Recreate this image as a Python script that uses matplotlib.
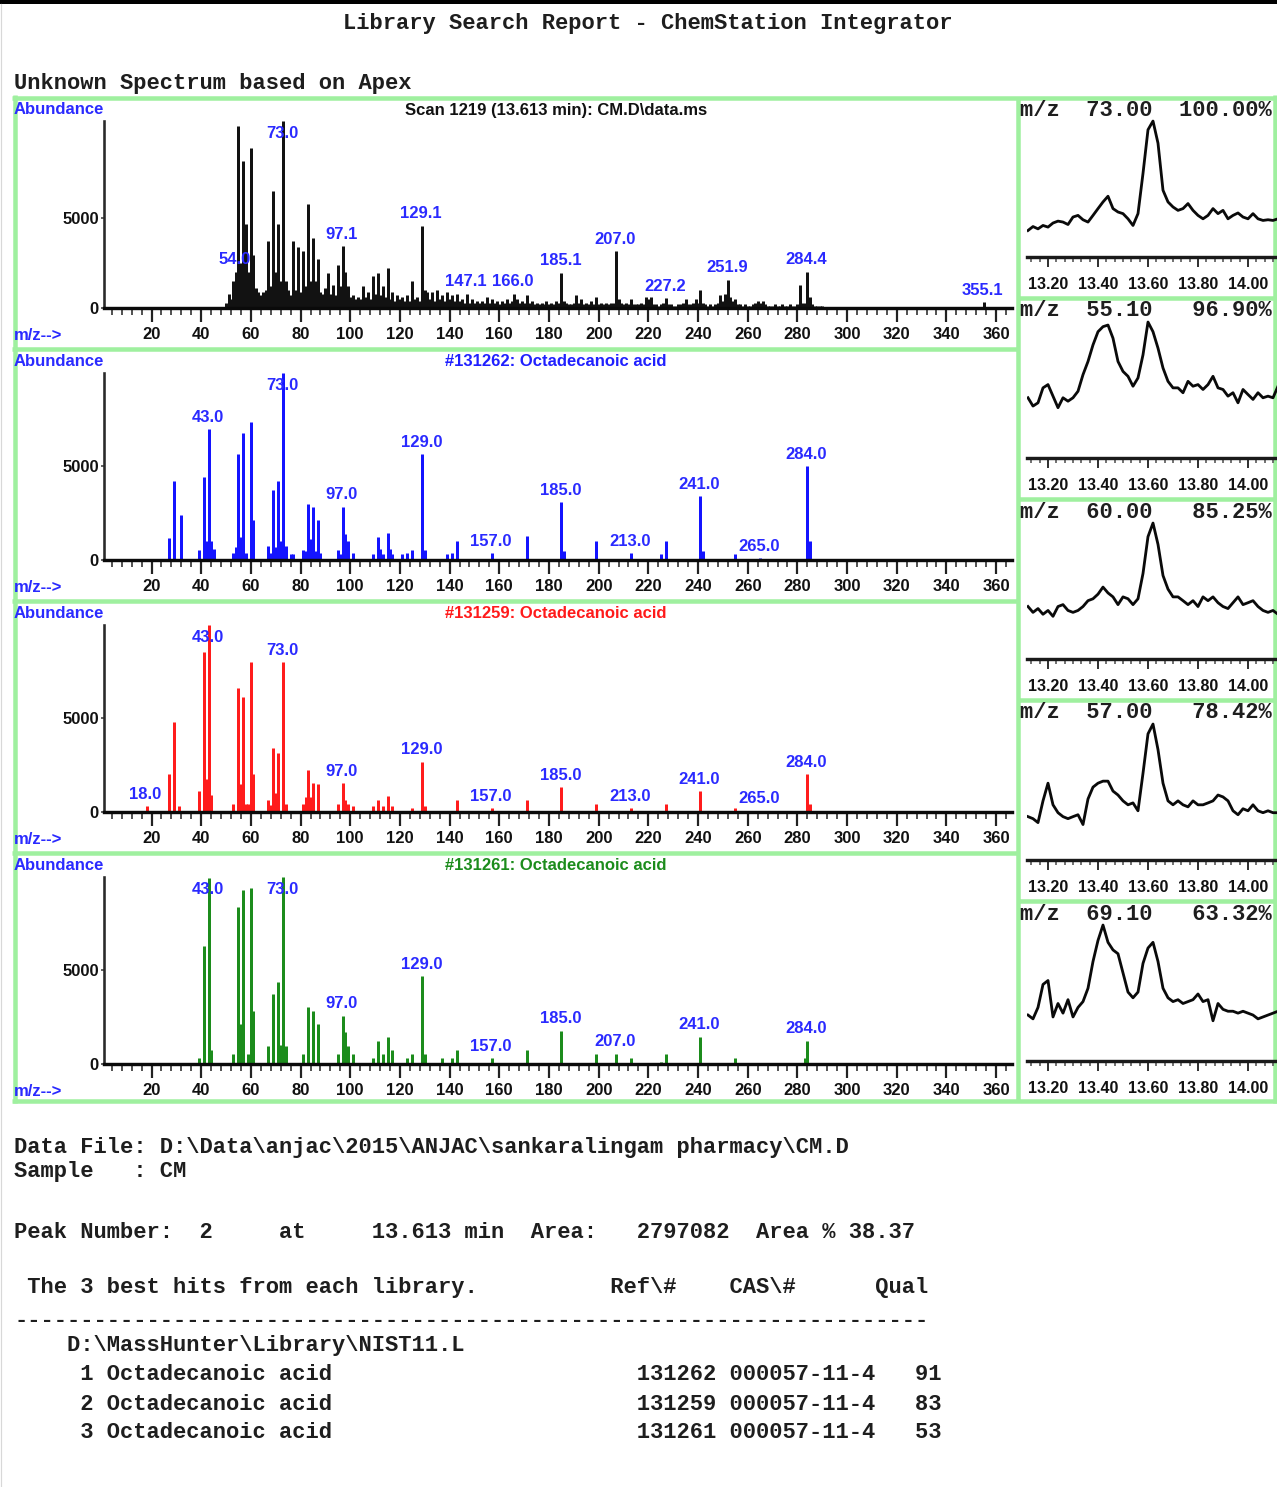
import matplotlib
matplotlib.use("Agg")
import matplotlib.pyplot as plt
import numpy as np
from matplotlib.ticker import MultipleLocator, FixedLocator

plt.rcParams['font.family'] = ['Liberation Sans', 'DejaVu Sans']
plt.rcParams['font.weight'] = 'bold'

# ---------------- data ----------------
# Unknown spectrum (scan 1219), m/z 50..290 plus 355
mz1 = list(range(50, 291)) + [355]
ab1 = [300, 800, 500, 1500, 2000, 10050, 2500, 8150, 4630, 2000,
       8870, 2960, 1100, 900, 700, 900, 1000, 3700, 1200, 6480,
       2000, 4630, 1500, 10350, 1500, 1000, 700, 3700, 1000, 3400,
       900, 3150, 1200, 5740, 1500, 3890, 1500, 2690, 900, 800,
       1100, 1950, 800, 1300, 700, 2400, 1200, 3430, 2000, 1200,
       600, 700, 500, 600, 500, 1200, 600, 900, 500, 1760,
       800, 1950, 700, 1200, 600, 2220, 500, 900, 400, 700,
       500, 600, 400, 700, 400, 1500, 500, 600, 400, 4540,
       1000, 900, 500, 900, 400, 1000, 500, 700, 400, 900,
       500, 700, 400, 800, 400, 500, 300, 780, 300, 500,
       300, 400, 300, 400, 300, 600, 300, 500, 300, 400,
       200, 400, 300, 500, 300, 400, 780, 500, 300, 400,
       300, 700, 300, 400, 200, 300, 200, 300, 200, 400,
       200, 300, 200, 400, 300, 1950, 400, 300, 200, 200,
       300, 700, 300, 500, 200, 300, 200, 400, 200, 600,
       200, 300, 200, 300, 200, 300, 300, 3150, 500, 300,
       200, 300, 200, 500, 200, 200, 200, 300, 200, 600,
       500, 600, 200, 200, 100, 200, 300, 550, 200, 200,
       100, 100, 200, 200, 300, 500, 200, 200, 300, 500,
       300, 1020, 300, 200, 100, 200, 100, 200, 300, 700,
       400, 800, 1550, 600, 400, 500, 200, 200, 100, 200,
       100, 100, 200, 300, 400, 300, 400, 200, 100, 100,
       100, 200, 100, 100, 200, 100, 100, 200, 100, 100,
       200, 1300, 300, 300, 2000, 600, 200, 100, 100, 100, 100,
       330]
lab1 = [(54, "54.0"), (73, "73.0"), (97, "97.1"), (129, "129.1"), (147, "147.1"),
        (166, "166.0"), (185, "185.1"), (207, "207.0"), (227, "227.2"),
        (252, "251.9"), (284, "284.4"), (355, "355.1")]

# Library hit #131262
mz2 = [27, 29, 32, 39, 41, 42, 43, 44, 45, 53, 54, 55, 56, 57, 58, 60, 61, 67, 68, 69,
       70, 71, 72, 73, 74, 76, 77, 81, 82, 83, 84, 85, 86, 87, 88, 95, 96, 97, 98, 99,
       101, 109, 111, 112, 113, 115, 116, 117, 121, 123, 125, 129, 130, 139, 141, 143, 157, 171, 185, 186,
       199, 213, 225, 227, 241, 242, 255, 265, 284, 285]
ab2 = [1200, 4200, 2400, 550, 4450, 1000, 7000, 1000, 600, 350, 700, 5650, 1250, 6800, 400, 7400, 2150, 750, 400, 3750,
       700, 4200, 1000, 9999, 750, 300, 300, 550, 500, 3000, 1100, 2850, 500, 2150, 400, 550, 300, 2850, 1400, 1000,
       400, 300, 1250, 600, 300, 1450, 600, 300, 300, 350, 550, 5650, 550, 300, 350, 1000, 350, 1300, 3100, 500,
       1000, 350, 300, 1000, 3400, 500, 300, 100, 5000, 1000]
lab2 = [(43, "43.0"), (73, "73.0"), (97, "97.0"), (129, "129.0"), (157, "157.0"), (185, "185.0"),
        (213, "213.0"), (241, "241.0"), (265, "265.0"), (284, "284.0")]

# Library hit #131259
mz3 = [18, 27, 29, 31, 39, 41, 42, 43, 44, 53, 55, 56, 57, 58, 59, 60, 61, 67, 68, 69,
       70, 71, 73, 74, 81, 82, 83, 84, 85, 87, 95, 97, 98, 99, 101, 109, 111, 113, 115, 117,
       125, 129, 130, 143, 157, 171, 185, 199, 213, 227, 241, 255, 265, 284, 285]
ab3 = [300, 2010, 4810, 300, 1100, 8550, 1780, 9999, 890, 450, 6620, 1500, 6140, 450, 450, 8010, 2050, 620, 400, 3420,
       1000, 3170, 8010, 450, 450, 800, 2225, 800, 1550, 1510, 450, 1550, 620, 450, 300, 300, 620, 300, 850, 300,
       210, 2700, 300, 620, 210, 620, 1335, 445, 210, 445, 1100, 210, 60, 2010, 445]
lab3 = [(18, "18.0"), (43, "43.0"), (73, "73.0"), (97, "97.0"), (129, "129.0"), (157, "157.0"),
        (185, "185.0"), (213, "213.0"), (241, "241.0"), (265, "265.0"), (284, "284.0")]

# Library hit #131261
mz4 = [39, 41, 43, 44, 53, 55, 56, 57, 59, 60, 61, 67, 69, 71, 72, 73, 74, 81, 83, 85,
       87, 95, 97, 98, 99, 101, 109, 111, 113, 115, 117, 123, 125, 129, 130, 137, 141, 143, 157, 171,
       185, 199, 207, 213, 225, 227, 241, 255, 283, 284]
ab4 = [300, 6320, 9950, 750, 530, 8370, 2140, 9290, 530, 9430, 2850, 980, 3740, 4410, 1000, 9999, 980, 530, 3030, 2850,
       2140, 530, 2580, 1690, 980, 530, 300, 1210, 530, 1420, 750, 300, 530, 4680, 530, 300, 300, 750, 320, 750,
       1790, 540, 540, 320, 100, 540, 1470, 320, 320, 1250]
lab4 = [(43, "43.0"), (73, "73.0"), (97, "97.0"), (129, "129.0"), (157, "157.0"), (185, "185.0"),
        (207, "207.0"), (241, "241.0"), (284, "284.0")]

titles = ["Scan 1219 (13.613 min): CM.D\\data.ms", "#131262: Octadecanoic acid",
          "#131259: Octadecanoic acid", "#131261: Octadecanoic acid"]

# Extracted ion chromatograms (relative intensity), scan times in min
eic_time = np.linspace(13.12, 14.12, 51)
eic_ions = [73.00, 55.10, 60.00, 57.00, 69.10]
eic_pct = [100.00, 96.90, 85.25, 78.42, 63.32]
eic73 = [19.5, 22.4, 20.7, 23.2, 22.0, 25.0, 26.4, 25.7, 23.9, 29.4,
         30.6, 27.4, 25.7, 30.6, 35.6, 40.5, 44.7, 35.6, 33.1, 31.9,
         28.1, 23.2, 31.9, 61.5, 93.6, 100.0, 83.7, 49.1, 40.5, 36.8,
         34.3, 35.6, 39.3, 34.3, 30.6, 28.1, 30.6, 35.6, 31.9, 34.3,
         28.1, 30.6, 32.4, 29.4, 28.1, 31.9, 28.1, 26.9, 27.4, 26.9, 28.1]
eic55 = [44.3, 38.2, 40.6, 51.6, 54.0, 45.5, 37.0, 44.3, 41.8, 44.3,
         49.1, 61.3, 71.0, 83.2, 92.9, 96.6, 97.8, 88.1, 71.0, 63.7,
         60.1, 52.8, 58.9, 75.9, 100.0, 92.9, 80.8, 66.2, 56.4, 51.6,
         51.6, 48.0, 56.4, 52.8, 54.0, 50.4, 54.0, 60.1, 51.6, 50.4,
         45.5, 48.0, 40.6, 50.4, 46.7, 43.1, 48.0, 44.3, 45.5, 44.3, 52.8]
eic60 = [38.6, 34.3, 37.1, 32.9, 35.7, 31.4, 38.6, 40.0, 35.7, 34.3,
         35.7, 38.6, 42.9, 44.3, 47.7, 52.9, 48.6, 45.7, 40.0, 45.7,
         44.3, 40.0, 44.3, 62.9, 90.0, 100.0, 84.3, 61.4, 51.4, 45.7,
         45.7, 42.9, 40.0, 42.9, 38.6, 45.7, 42.9, 45.7, 41.4, 38.6,
         37.1, 41.4, 45.7, 40.0, 41.4, 42.9, 38.6, 35.7, 34.3, 35.7, 32.9]
eic57 = [31.9, 30.4, 27.5, 43.5, 56.5, 40.6, 34.8, 31.9, 30.4, 31.9,
         33.3, 26.1, 44.9, 53.6, 56.5, 58.0, 58.0, 50.7, 47.8, 43.5,
         40.6, 42.0, 36.2, 63.8, 92.8, 100.0, 81.2, 56.5, 43.5, 40.6,
         43.5, 40.6, 39.1, 43.5, 40.6, 40.6, 42.0, 43.5, 47.8, 46.4,
         43.5, 36.2, 33.3, 37.7, 36.2, 40.6, 36.2, 34.8, 36.2, 34.8, 34.8]
eic69 = [33.8, 31.0, 39.4, 56.3, 59.2, 32.4, 42.3, 35.2, 45.1, 32.4,
         39.4, 43.7, 53.5, 73.2, 88.7, 100.0, 87.3, 81.7, 78.9, 64.8,
         50.7, 46.5, 50.7, 71.8, 83.1, 87.3, 73.2, 53.5, 46.5, 43.7,
         45.1, 42.3, 43.7, 45.1, 49.3, 43.7, 45.1, 29.6, 42.3, 38.0,
         36.6, 36.6, 35.2, 36.6, 35.2, 33.8, 31.0, 32.4, 33.8, 35.2, 36.6]

report_title = "Library Search Report - ChemStation Integrator"
subtitle = "Unknown Spectrum based on Apex"
hits = [("Octadecanoic acid", "131262", "000057-11-4", "91"),
        ("Octadecanoic acid", "131259", "000057-11-4", "83"),
        ("Octadecanoic acid", "131261", "000057-11-4", "53")]

# ---------------- layout ----------------
W, H = 1277, 1487
fig = plt.figure(figsize=(W / 100, H / 100), dpi=100)
PX = 72 / 100.0  # points per pixel

ov = fig.add_axes([0, 0, 1, 1])
ov.set_xlim(0, W)
ov.set_ylim(H, 0)
ov.axis('off')


def pax(x0, y0, x1, y1):
    a = fig.add_axes([x0 / W, 1 - y1 / H, (x1 - x0) / W, (y1 - y0) / H])
    a.patch.set_alpha(0)
    return a


GREEN = '#9ff09f'
BLUE = '#2a2aff'
MONO = dict(family=['Liberation Mono', 'DejaVu Sans Mono'], fontsize=15.9,
            fontweight='bold', color='#1e1e1e', va='center')


def gline(x0, y0, x1, y1):
    ov.plot([x0, x1], [y0, y1], color=GREEN, lw=4.5 * PX, solid_capstyle='butt', zorder=1)


# page decorations
ov.add_patch(plt.Rectangle((0, 0), W, 4, color='black', lw=0))
ov.plot([0.8, 0.8], [4, H], color='#d8d8d8', lw=1.2 * PX)

# frame
gline(12, 97.5, 1277, 97.5)
gline(12, 1100.5, 1277, 1100.5)
gline(14.5, 95, 14.5, 1103)
gline(1274.5, 95, 1274.5, 1103)
gline(1018, 97, 1018, 1101)
for y in [348.5, 600.5, 852.5]:
    gline(12, y, 1018, y)
for y in [298, 499, 700, 901]:
    gline(1018, y, 1277, y)

# texts
ov.text(648, 23, report_title, ha='center', **MONO)
ov.text(14, 84, subtitle, ha='left', **MONO)

spectra = [(mz1, ab1, '#121212', titles[0], '#111111', lab1),
           (mz2, ab2, '#1414ff', titles[1], '#2020ff', lab2),
           (mz3, ab3, '#ff1c1c', titles[2], '#ff1a1a', lab3),
           (mz4, ab4, '#1c8c1c', titles[3], '#1c8c1c', lab4)]
tops = [97, 349, 601, 853]
MZ_LIM = (0.87, 366.4)

for k, (mz, ab, col, ttl, tcol, labs) in enumerate(spectra):
    T = tops[k]
    ax = pax(104, T + 24, 1012, T + 211)
    ymax = max(ab)
    ax.set_xlim(*MZ_LIM)
    ax.set_ylim(0, ymax)
    ax.vlines(mz, 0, ab, color=col, lw=3.0 * PX, zorder=2)
    for s in ['top', 'right']:
        ax.spines[s].set_visible(False)
    ax.spines['bottom'].set_linewidth(3.4 * PX)
    ax.spines['bottom'].set_color('#0a0a0a')
    ax.spines['left'].set_linewidth(2.6 * PX)
    ax.spines['left'].set_color('#2a2a2a')
    ax.xaxis.set_major_locator(MultipleLocator(20))
    ax.xaxis.set_minor_locator(MultipleLocator(4))
    ax.tick_params(axis='x', which='major', length=14 * PX, width=2.2 * PX, color='#222',
                   labelsize=12, pad=3.5, labelcolor='#111')
    ax.tick_params(axis='x', which='minor', length=7 * PX, width=2.0 * PX, color='#555')
    ax.set_yticks([0, 5000])
    ax.set_yticklabels(['0', '5000'])
    ax.tick_params(axis='y', which='major', length=3 * PX, width=1.5 * PX, color='#333',
                   labelsize=12, pad=1.5, labelcolor='#111')
    d = ymax * 12.0 / 187.0
    for m, txt in labs:
        v = ab[mz.index(m)]
        y = min(v + d, ymax - d)
        ax.text(m - 0.4, y, txt, color=BLUE, ha='center', va='center', fontsize=12,
                fontweight='bold', zorder=3)
    ov.text(14, T + 13, "Abundance", color=BLUE, ha='left', va='center', fontsize=12, fontweight='bold')
    ov.text(556, T + 13, ttl, color=tcol, ha='center', va='center', fontsize=12, fontweight='bold')
    ov.text(14, T + 238, "m/z-->", color=BLUE, ha='left', va='center', fontsize=12, fontweight='bold')

# right column: extracted ion chromatograms
eics = [eic73, eic55, eic60, eic57, eic69]
rtops = [97, 298, 499, 700, 901]
for k, tr in enumerate(eics):
    R = rtops[k]
    ax = pax(1027, R + 14, 1277, R + 160)
    ax.set_xlim(13.116, 14.116)
    ax.set_ylim(0, 107.4)
    ax.plot(eic_time, tr, color='#0a0a0a', lw=2.8 * PX, zorder=2)
    for s in ['top', 'right', 'left']:
        ax.spines[s].set_visible(False)
    ax.spines['bottom'].set_linewidth(3.4 * PX)
    ax.spines['bottom'].set_color('#1a1a1a')
    ax.set_yticks([])
    ax.xaxis.set_major_locator(FixedLocator([13.2, 13.4, 13.6, 13.8, 14.0]))
    ax.set_xticklabels(['13.20', '13.40', '13.60', '13.80', '14.00'])
    ax.xaxis.set_minor_locator(MultipleLocator(1 / 30.0))
    ax.tick_params(axis='x', which='major', length=10 * PX, width=2.0 * PX, color='#333',
                   labelsize=11.5, pad=7.5, labelcolor='#111')
    ax.tick_params(axis='x', which='minor', length=5 * PX, width=1.8 * PX, color='#666')
    hdr = f"m/z  {eic_ions[k]:5.2f}  {eic_pct[k]:6.2f}%"
    ov.text(1020, R + 13, hdr, ha='left', **MONO)

# bottom report text
lines = [
    (1147, "Data File: D:\\Data\\anjac\\2015\\ANJAC\\sankaralingam pharmacy\\CM.D"),
    (1172, "Sample   : CM"),
    (1232, "Peak Number:  2     at     13.613 min  Area:   2797082  Area % 38.37"),
    (1288, " The 3 best hits from each library.".ljust(45) + "Ref\\#".ljust(9) + "CAS\\#".ljust(11) + "Qual"),
    (1320, "-" * 69),
    (1345, "    D:\\MassHunter\\Library\\NIST11.L"),
]
for i, (name, ref, cas, q) in enumerate(hits):
    lines.append((1375 + 28 * i + (2 if i else 0),
                  f"     {i + 1} {name}".ljust(47) + f"{ref} {cas}   {q}"))
for y, s in lines:
    ov.text(14, y, s, ha='left', **MONO)

fig.savefig("out.png", dpi=100)
